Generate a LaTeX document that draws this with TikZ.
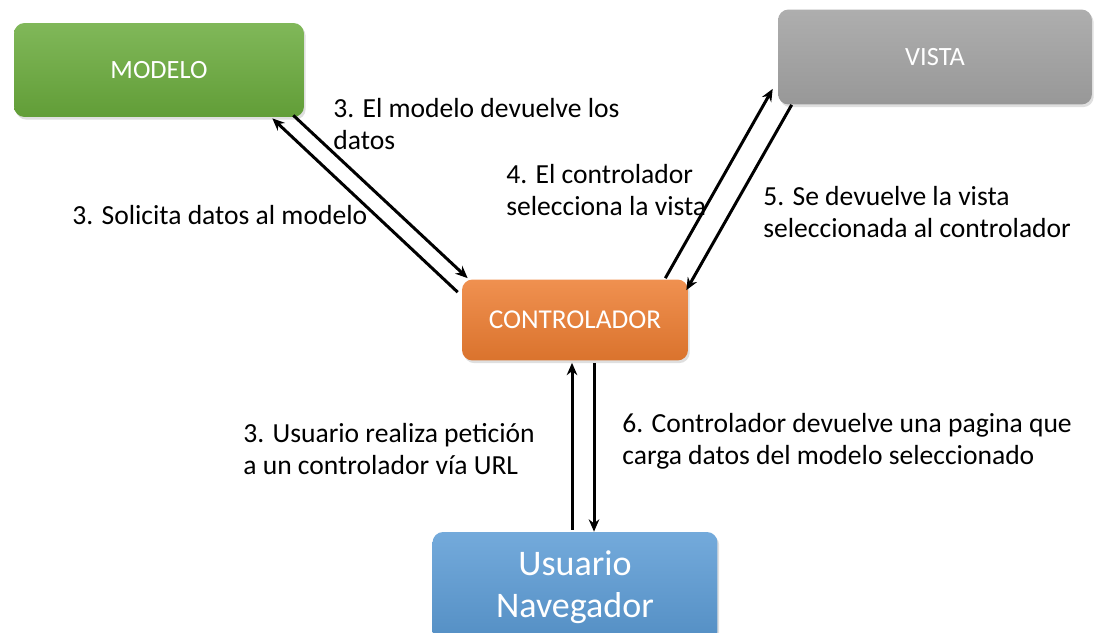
\documentclass[tikz,border=0pt]{standalone}
\usepackage{fontspec}
\setmainfont{Carlito}
\usetikzlibrary{shadows}
\usetikzlibrary{calc}
\usetikzlibrary{arrows.meta}

\definecolor{verde}{RGB}{106,171,60}
\definecolor{gris}{RGB}{165,165,165}
\definecolor{naranja}{RGB}{237,125,49}
\definecolor{azul}{RGB}{91,155,213}

\tikzset{
  caja/.style={rectangle, rounded corners=6pt, text=white, inner sep=0pt,
    drop shadow={opacity=0.25, shadow xshift=1pt, shadow yshift=-1.5pt}},
  nota/.style={anchor=west, align=left, inner sep=0pt,
    font=\fontsize{15.7}{18.2}\selectfont},
  flecha/.style={-{Stealth[length=7pt,width=6pt]}, line width=1.7pt}
}

\begin{document}
\begin{tikzpicture}[x=0.02cm, y=-0.02cm]
  \useasboundingbox (0,0) rectangle (1095,632);

  \node[caja, top color=verde!85!white, bottom color=verde!92!black,
    minimum width=5.8cm, minimum height=1.88cm,
    font=\fontsize{15}{17}\selectfont] (modelo) at (159,70) {MODELO};
  \node[caja, top color=gris!90!white, bottom color=gris!92!black,
    minimum width=6.28cm, minimum height=1.9cm,
    font=\fontsize{15}{17}\selectfont] (vista) at (935,57) {VISTA};
  \node[caja, top color=naranja!85!white, bottom color=naranja!92!black,
    minimum width=4.52cm, minimum height=1.62cm,
    font=\fontsize{15.5}{17}\selectfont] (ctrl) at (575,320) {CONTROLADOR};
  \node[caja, top color=azul!85!white, bottom color=azul!92!black,
    minimum width=5.7cm, minimum height=2.2cm, align=center,
    font=\fontsize{20.5}{24}\selectfont] (usuario) at (575,587) {Usuario\\Navegador};

  \draw[flecha] ($(ctrl.north west)+(-4,13)$) -- ($(modelo.south east)+(-32,1)$);
  \draw[flecha] ($(modelo.south east)+(-11,-2)$) -- ($(ctrl.north west)+(6,-1)$);

  \draw[flecha] ($(ctrl.north east)+(-23,-1)$) -- ($(vista.south west)+(-5,-16)$);
  \draw[flecha] ($(vista.south west)+(14,0)$) -- ($(ctrl.north east)+(-2,11)$);

  \draw[flecha] ($(usuario.north)+(-3,-2)$) -- ($(ctrl.south)+(-3,2)$);
  \draw[flecha] ($(ctrl.south)+(19,2)$) -- ($(usuario.north)+(19,0)$);

  \node[nota] (devuelve) at (333,124) {3. El modelo devuelve los\\datos};
  \node[nota] (selecciona) at (506,190) {4. El controlador\\selecciona la vista};
  \node[nota] (solicita) at (72,215) {3. Solicita datos al modelo};
  \node[nota] (seDevuelve) at (763,212) {5. Se devuelve la vista\\seleccionada al controlador};
  \node[nota] (peticion) at (243,449) {3. Usuario realiza petición\\a un controlador vía URL};
  \node[nota] (pagina) at (622,441) {6. Controlador devuelve una pagina que\\carga datos del modelo seleccionado};
\end{tikzpicture}
\end{document}
